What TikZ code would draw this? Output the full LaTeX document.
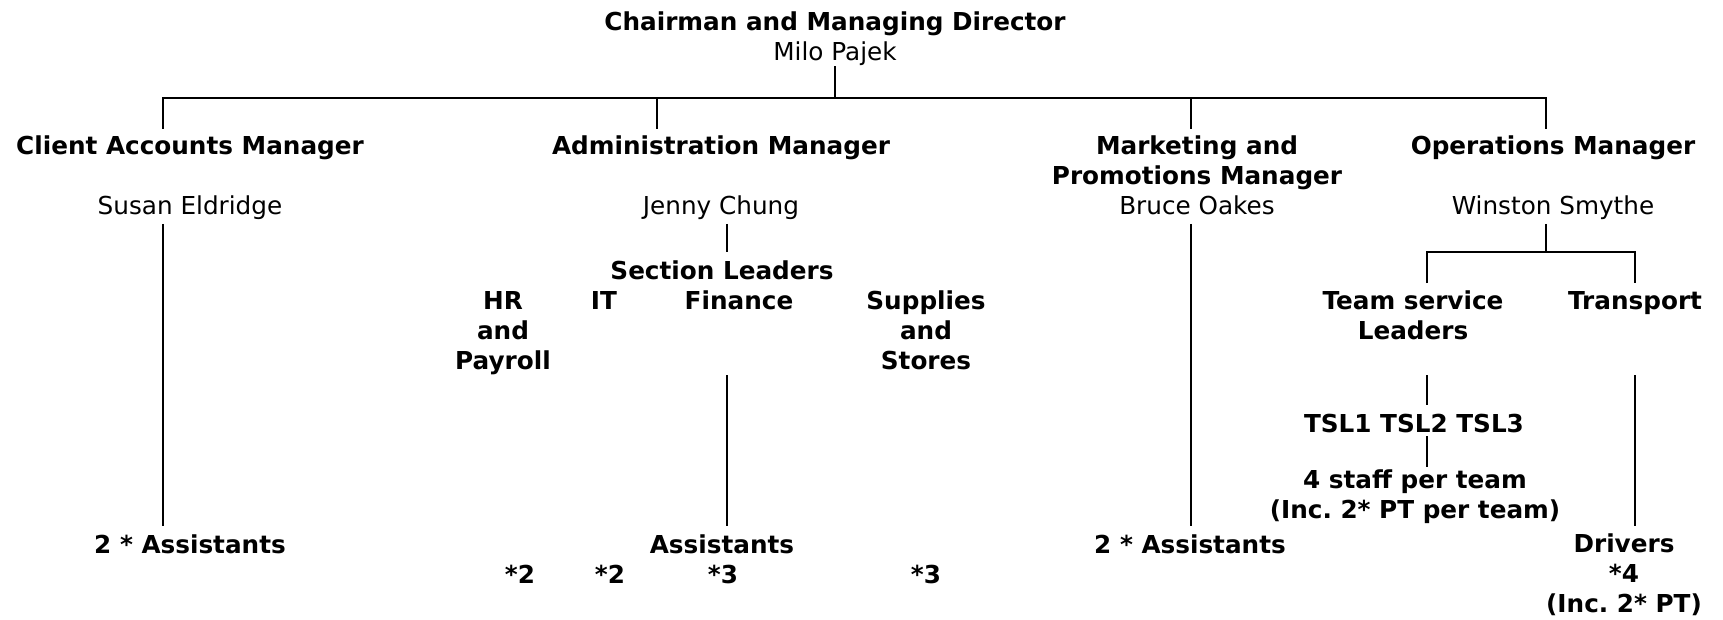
\documentclass[tikz,border=0pt]{standalone}
\usepackage{fontspec}
\setmainfont{DejaVu Sans}
\frenchspacing

\tikzset{
  post/.style={inner sep=0pt,outer sep=0pt,align=center,anchor=base,
    font=\fontsize{12.35}{15}\selectfont},
  staff/.style={post,font=\fontsize{12.35}{15}\selectfont\bfseries},
  link/.style={line width=1pt}
}

\begin{document}
\begin{tikzpicture}[x=0.5pt,y=-0.5pt]
  \useasboundingbox (0,0) rectangle (1723,620);

  % top of the chart (base = last line)
  \node[post] (chair) at (835,61) {\textbf{Chairman and Managing Director}\\Milo Pajek};

  % managers
  \node[post] (cam) at (190,215) {\textbf{Client Accounts Manager}\\[15pt]Susan Eldridge};
  \node[post] (am) at (721,215) {\textbf{Administration Manager}\\[15pt]Jenny Chung};
  \node[post] (mpm) at (1197,215) {\textbf{Marketing and}\\\textbf{Promotions Manager}\\Bruce Oakes};
  \node[post] (om) at (1553,215) {\textbf{Operations Manager}\\[15pt]Winston Smythe};

  % administration sections
  \node[staff] (sect) at (722,279) {Section Leaders};
  \node[staff] (hr) at (503,369) {HR\\and\\Payroll};
  \node[staff] (it) at (604,309) {IT};
  \node[staff] (fin) at (739,309) {Finance};
  \node[staff] (sup) at (926,369) {Supplies\\and\\Stores};
  \node[staff] (adasst) at (722,553) {Assistants};
  \node[staff] (hrn) at (520,583) {*2};
  \node[staff] (itn) at (610,583) {*2};
  \node[staff] (finn) at (723,583) {*3};
  \node[staff] (supn) at (926,583) {*3};

  % operations
  \node[staff] (tsl) at (1413,339) {Team service\\Leaders};
  \node[staff] (trans) at (1635,309) {Transport};
  \node[staff] (teams) at (1414,432) {TSL1 TSL2 TSL3};
  \node[staff] (perteam) at (1415,518) {4 staff per team\\(Inc. 2* PT per team)};
  \node[staff] (drivers) at (1624,612) {Drivers\\*4\\(Inc. 2* PT)};

  % assistants
  \node[staff] (camasst) at (190,553) {2 * Assistants};
  \node[staff] (mpmasst) at (1190,553) {2 * Assistants};

  % line ends
  \coordinate (bus) at (835,98);
  \coordinate (camin) at (163,129);
  \coordinate (amin) at (657,129);
  \coordinate (mpmin) at (1191,129);
  \coordinate (omin) at (1546,129);
  \coordinate (camout) at (163,224);
  \coordinate (camend) at (163,526);
  \coordinate (amout) at (727,224);
  \coordinate (amend) at (727,252);
  \coordinate (finout) at (727,375);
  \coordinate (finend) at (727,526);
  \coordinate (mpmout) at (1191,224);
  \coordinate (mpmend) at (1191,526);
  \coordinate (omout) at (1546,224);
  \coordinate (opsbus) at (1546,252);
  \coordinate (tslin) at (1427,283);
  \coordinate (transin) at (1635,283);
  \coordinate (tslout) at (1427,375);
  \coordinate (tslend) at (1427,405);
  \coordinate (teamsout) at (1427,436);
  \coordinate (teamsend) at (1427,467);
  \coordinate (transout) at (1635,375);
  \coordinate (transend) at (1635,526);

  \draw[link] (chair.south) -- (bus);
  \draw[link] (camin) |- (bus) -| (omin);
  \draw[link] (bus -| amin) -- (amin);
  \draw[link] (bus -| mpmin) -- (mpmin);
  \draw[link] (camout) -- (camend);
  \draw[link] (amout) -- (amend);
  \draw[link] (finout) -- (finend);
  \draw[link] (mpmout) -- (mpmend);
  \draw[link] (omout) -- (opsbus);
  \draw[link] (tslin) |- (opsbus) -| (transin);
  \draw[link] (tslout) -- (tslend);
  \draw[link] (teamsout) -- (teamsend);
  \draw[link] (transout) -- (transend);
\end{tikzpicture}
\end{document}
